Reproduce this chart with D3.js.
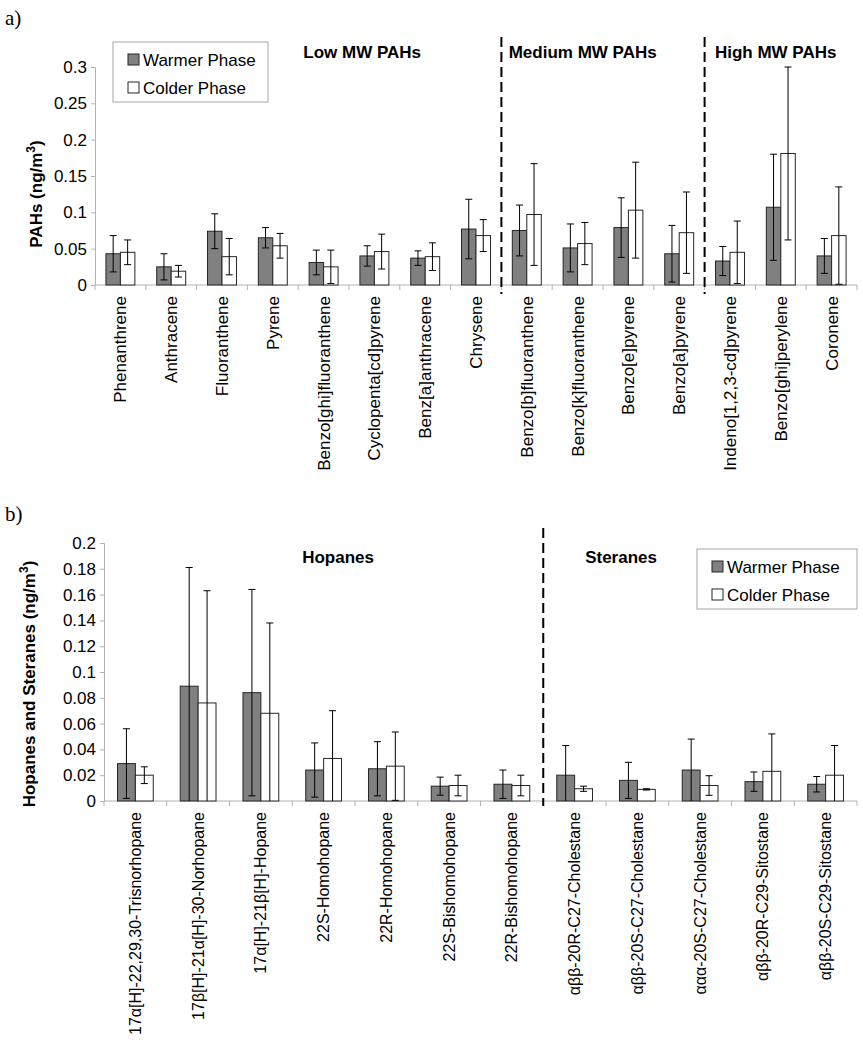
<!DOCTYPE html>
<html lang="en">
<head>
    <meta charset="UTF-8">
    <title>PAHs and Hopanes/Steranes</title>
    <style>
        body { margin: 0; background: #fff; }
        text { font-family: "Liberation Sans", Arial, sans-serif; fill: #000; }
    </style>
</head>
<body>
    <svg id="svg" width="863" height="1050"></svg>

    <script src="https://d3js.org/d3.v7.min.js"></script>
    <script>
        // ---- panel a) data
        const pahNames = ['Phenanthrene', 'Anthracene', 'Fluoranthene', 'Pyrene', 'Benzo[ghi]fluoranthene',
            'Cyclopenta[cd]pyrene', 'Benz[a]anthracene', 'Chrysene', 'Benzo[b]fluoranthene',
            'Benzo[k]fluoranthene', 'Benzo[e]pyrene', 'Benzo[a]pyrene', 'Indeno[1,2,3-cd]pyrene',
            'Benzo[ghi]perylene', 'Coronene']
        const pahWarm = [0.043, 0.025, 0.074, 0.065, 0.031, 0.040, 0.037, 0.077, 0.075, 0.051, 0.079, 0.043, 0.033, 0.107, 0.040]
        const pahWarmErr = [0.025, 0.018, 0.024, 0.014, 0.017, 0.014, 0.010, 0.041, 0.035, 0.033, 0.041, 0.039, 0.020, 0.073, 0.024]
        const pahCold = [0.045, 0.019, 0.039, 0.054, 0.025, 0.046, 0.039, 0.068, 0.097, 0.057, 0.103, 0.072, 0.045, 0.181, 0.068]
        const pahColdErr = [0.017, 0.008, 0.025, 0.017, 0.023, 0.024, 0.019, 0.022, 0.070, 0.029, 0.066, 0.056, 0.043, 0.119, 0.067]
        const pahTicks = [0, 0.05, 0.1, 0.15, 0.2, 0.25, 0.3]
        const pahGroups = ['Low MW PAHs', 'Medium MW PAHs', 'High MW PAHs']

        // ---- panel b) data
        const hopNames = ['17α[H]-22,29,30-Trisnorhopane', '17β[H]-21α[H]-30-Norhopane', '17α[H]-21β[H]-Hopane',
            '22S-Homohopane', '22R-Homohopane', '22S-Bishomohopane', '22R-Bishomohopane',
            'αββ-20R-C27-Cholestane', 'αββ-20S-C27-Cholestane', 'ααα-20S-C27-Cholestane',
            'αββ-20R-C29-Sitostane', 'αββ-20S-C29-Sitostane']
        const hopWarm = [0.029, 0.089, 0.084, 0.024, 0.025, 0.0115, 0.013, 0.020, 0.016, 0.024, 0.015, 0.013]
        const hopWarmErr = [0.027, 0.092, 0.080, 0.021, 0.021, 0.007, 0.011, 0.023, 0.014, 0.024, 0.0075, 0.006]
        const hopCold = [0.020, 0.076, 0.068, 0.033, 0.027, 0.012, 0.012, 0.0095, 0.009, 0.012, 0.023, 0.020]
        const hopColdErr = [0.0065, 0.087, 0.070, 0.037, 0.0265, 0.008, 0.008, 0.002, 0.0005, 0.0076, 0.029, 0.023]
        const hopTicks = [0, 0.02, 0.04, 0.06, 0.08, 0.1, 0.12, 0.14, 0.16, 0.18, 0.2]
        const hopGroups = ['Hopanes', 'Steranes']

        const seriesNames = ['Warmer Phase', 'Colder Phase']
        const seriesFill = ['#808080', '#ffffff']
        const axisGray = '#b3b3b3'

        const svg = d3.select('#svg')

        function drawPanel(cfg) {
            const g = svg.append('g')

            const x = d3.scaleBand()
                .domain(cfg.names)
                .range([cfg.x0, cfg.x1])
            const inner = d3.scaleBand()
                .domain([0, 1])
                .range([x.step() * 0.215, x.step() * 0.785])
            const y = d3.scaleLinear()
                .domain([0, cfg.max])
                .range([cfg.yBot, cfg.yTop])

            // panel letter
            g.append('text')
                .attr('x', 5).attr('y', cfg.letterY)
                .style('font-family', '"Liberation Serif", "Times New Roman", serif')
                .style('font-size', '21px')
                .text(cfg.letter)

            // y axis
            const yAxis = g.append('g')
                .attr('transform', `translate(${cfg.x0},0)`)
                .call(d3.axisLeft(y).tickValues(cfg.ticks).tickSize(4).tickPadding(4)
                    .tickFormat(d => d3.format('~g')(d)))
            yAxis.selectAll('path, line').attr('stroke', axisGray)
            yAxis.selectAll('text').style('font-size', '17px')
                .style('font-family', '"Liberation Sans", Arial, sans-serif')

            // x axis line + boundary ticks
            g.append('line')
                .attr('x1', cfg.x0).attr('x2', cfg.x1)
                .attr('y1', y(0)).attr('y2', y(0))
                .attr('stroke', axisGray)
            g.selectAll('.xtick')
                .data(d3.range(cfg.names.length + 1))
                .enter()
                .append('line')
                .attr('class', 'xtick')
                .attr('x1', i => cfg.x0 + i * x.step())
                .attr('x2', i => cfg.x0 + i * x.step())
                .attr('y1', y(0)).attr('y2', y(0) + 5)
                .attr('stroke', axisGray)

            // bars with error bars
            const series = [cfg.warm, cfg.cold]
            const errs = [cfg.warmErr, cfg.coldErr]
            series.forEach((vals, s) => {
                const rows = vals.map((v, i) => ({ name: cfg.names[i], v: v, e: errs[s][i] }))
                const cx = d => x(d.name) + inner(s) + inner.bandwidth() / 2

                g.selectAll('.bar' + s)
                    .data(rows)
                    .enter()
                    .append('rect')
                    .attr('class', 'bar' + s)
                    .attr('x', d => x(d.name) + inner(s))
                    .attr('y', d => y(d.v))
                    .attr('width', inner.bandwidth())
                    .attr('height', d => y(0) - y(d.v))
                    .attr('fill', seriesFill[s])
                    .attr('stroke', '#262626')
                    .attr('stroke-width', 1)

                const eg = g.selectAll('.err' + s)
                    .data(rows)
                    .enter()
                    .append('g')
                    .attr('class', 'err' + s)
                    .attr('transform', d => `translate(${cx(d)},0)`)
                eg.append('line')
                    .attr('y1', d => y(d.v + d.e))
                    .attr('y2', d => y(Math.max(0, d.v - d.e)))
                    .attr('stroke', '#000')
                eg.append('line')
                    .attr('x1', -3.5).attr('x2', 3.5)
                    .attr('y1', d => y(d.v + d.e))
                    .attr('y2', d => y(d.v + d.e))
                    .attr('stroke', '#000')
                eg.filter(d => d.v - d.e > 0)
                    .append('line')
                    .attr('x1', -3.5).attr('x2', 3.5)
                    .attr('y1', d => y(d.v - d.e))
                    .attr('y2', d => y(d.v - d.e))
                    .attr('stroke', '#000')
            })

            // category labels
            g.selectAll('.xlab')
                .data(cfg.names)
                .enter()
                .append('text')
                .attr('class', 'xlab')
                .attr('transform', d => `translate(${x(d) + x.bandwidth() / 2},${y(0) + 11}) rotate(-90)`)
                .attr('text-anchor', 'end')
                .attr('dy', '0.35em')
                .style('font-size', cfg.labelSize)
                .text(d => d)

            // dashed separators
            cfg.splits.forEach(k => {
                g.append('line')
                    .attr('x1', cfg.x0 + k * x.step()).attr('x2', cfg.x0 + k * x.step())
                    .attr('y1', cfg.dashTop).attr('y2', cfg.dashBot)
                    .attr('stroke', '#000')
                    .attr('stroke-width', 2)
                    .attr('stroke-dasharray', '10,5')
            })

            // group titles
            cfg.groups.forEach((name, i) => {
                g.append('text')
                    .attr('x', cfg.x0 + cfg.groupPos[i] * x.step())
                    .attr('y', cfg.groupY)
                    .attr('text-anchor', 'middle')
                    .style('font-size', '17px')
                    .style('font-weight', 'bold')
                    .text(name)
            })

            // y title
            const yt = g.append('text')
                .attr('transform', `translate(${cfg.yTitleX},${cfg.yTitleY}) rotate(-90)`)
                .attr('text-anchor', 'middle')
                .style('font-size', '17px')
                .style('font-weight', 'bold')
            yt.append('tspan').text(cfg.yTitle + ' (ng/m')
            yt.append('tspan').attr('dy', -7).style('font-size', '12px').text('3')
            yt.append('tspan').attr('dy', 7).text(')')

            // legend
            const lg = g.append('g').attr('transform', `translate(${cfg.legend[0]},${cfg.legend[1]})`)
            lg.append('rect')
                .attr('width', cfg.legend[2]).attr('height', 60)
                .attr('fill', '#fff').attr('stroke', '#a6a6a6')
            seriesNames.forEach((name, s) => {
                lg.append('rect')
                    .attr('x', 15).attr('y', 12 + s * 28)
                    .attr('width', 11).attr('height', 11)
                    .attr('fill', seriesFill[s]).attr('stroke', '#262626')
                lg.append('text')
                    .attr('x', 30).attr('y', 24 + s * 28)
                    .style('font-size', '17px')
                    .text(name)
            })
        }

        drawPanel({
            letter: 'a)', letterY: 25,
            names: pahNames, warm: pahWarm, warmErr: pahWarmErr, cold: pahCold, coldErr: pahColdErr,
            ticks: pahTicks, max: 0.3,
            x0: 95, x1: 857, yTop: 67, yBot: 285,
            labelSize: '17px',
            splits: [8, 12], dashTop: 37, dashBot: 294,
            groups: pahGroups, groupPos: [5.26, 9.6, 13.4], groupY: 58,
            yTitle: 'PAHs', yTitleX: 42, yTitleY: 194,
            legend: [113, 42, 155]
        })

        drawPanel({
            letter: 'b)', letterY: 521,
            names: hopNames, warm: hopWarm, warmErr: hopWarmErr, cold: hopCold, coldErr: hopColdErr,
            ticks: hopTicks, max: 0.2,
            x0: 104, x1: 857, yTop: 543, yBot: 801,
            labelSize: '16px',
            splits: [7], dashTop: 528, dashBot: 806,
            groups: hopGroups, groupPos: [3.73, 8.24], groupY: 563,
            yTitle: 'Hopanes and Steranes', yTitleX: 35, yTitleY: 684,
            legend: [697, 549, 160]
        })
    </script>
</body>
</html>
